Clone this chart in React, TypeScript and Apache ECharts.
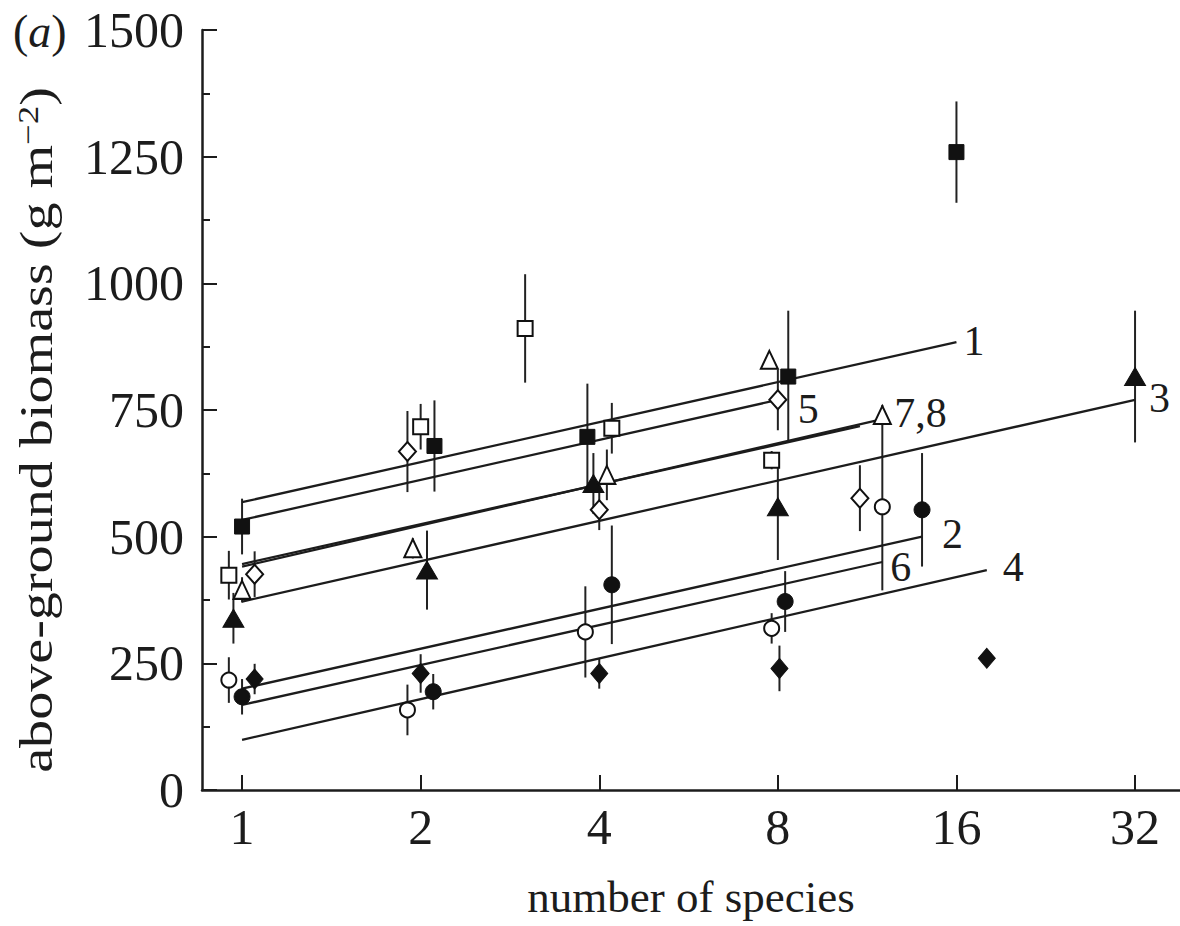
import React, { useEffect, useRef } from "react";
import * as echarts from "echarts";

const FONT = "'Liberation Serif', 'Times New Roman', Times, serif";
const INK = "#1c1c1c";

// axis ticks
const xTickValues = [1, 2, 4, 8, 16, 32];
const xMin = 0.856;
const xMax = 38.1;
const yMin = 0;
const yMax = 1500;
const yInterval = 250;

// number of species (x), biomass (y), half-length of error bar (e)
const filledSquareX = [1.0, 2.11, 3.82, 8.33, 16.0];
const filledSquareY = [520, 679, 697, 816, 1259];
const filledSquareE = [55, 90, 105, 130, 100];

const openSquareX = [0.95, 2.0, 3.0, 4.2, 7.81];
const openSquareY = [424, 717, 911, 714, 651];
const openSquareE = [48, 45, 107, 50, 18];

const filledTriangleX = [0.967, 2.05, 3.91, 8.0, 32.0];
const filledTriangleY = [339, 434, 605, 559, 816];
const filledTriangleE = [50, 78, 60, 105, 130];

const openTriangleX = [1.0, 1.94, 4.12, 7.74, 12.0];
const openTriangleY = [395, 477, 622, 849, 740];
const openTriangleE = [25, 20, 50, 15, 20];

const filledCircleX = [1.0, 2.1, 4.2, 8.23, 14.0];
const filledCircleY = [184, 194, 405, 372, 553];
const filledCircleE = [35, 35, 117, 60, 112];

const openCircleX = [0.95, 1.9, 3.79, 7.81, 12.0];
const openCircleY = [217, 158, 312, 319, 559];
const openCircleE = [45, 50, 90, 30, 165];

const filledDiamondX = [1.05, 2.0, 4.0, 8.05, 18.0];
const filledDiamondY = [219, 230, 230, 240, 260];
const filledDiamondE = [30, 38, 30, 45, 0];

const openDiamondX = [1.05, 1.9, 4.0, 8.0, 11.0];
const openDiamondY = [426, 668, 553, 770, 576];
const openDiamondE = [45, 80, 40, 60, 65];

// fitted regression lines (one per site)
const lineLabels = ["1", "5", "", "7,8", "3", "2", "6", "4"];
const lineStartX = [1, 1, 1, 1, 1, 1, 1, 1];
const lineStartY = [568, 533, 446, 441, 372, 200, 168, 99];
const lineEndX = [16, 8, 11, 12, 32, 14, 12, 18];
const lineEndY = [884, 770, 718, 732, 770, 500, 450, 434];
// label offsets (style only)
const lineLabelOffsets = [
  [7, -1],
  [20, 9],
  [0, 0],
  [12, -6],
  [14, -2],
  [20, -3],
  [8, 5],
  [16, -3],
];

type Group = {
  name: string;
  x: number[];
  y: number[];
  e: number[];
  symbol: string;
  size: number | number[];
  filled: boolean;
};

const groups: Group[] = [
  { name: "filled square", x: filledSquareX, y: filledSquareY, e: filledSquareE, symbol: "rect", size: 15, filled: true },
  { name: "open square", x: openSquareX, y: openSquareY, e: openSquareE, symbol: "rect", size: 15, filled: false },
  { name: "filled triangle", x: filledTriangleX, y: filledTriangleY, e: filledTriangleE, symbol: "triangle", size: [21, 18], filled: true },
  { name: "open triangle", x: openTriangleX, y: openTriangleY, e: openTriangleE, symbol: "triangle", size: [17, 18], filled: false },
  { name: "filled circle", x: filledCircleX, y: filledCircleY, e: filledCircleE, symbol: "circle", size: 16, filled: true },
  { name: "open circle", x: openCircleX, y: openCircleY, e: openCircleE, symbol: "circle", size: 15, filled: false },
  { name: "filled diamond", x: filledDiamondX, y: filledDiamondY, e: filledDiamondE, symbol: "diamond", size: [17, 20], filled: true },
  { name: "open diamond", x: openDiamondX, y: openDiamondY, e: openDiamondE, symbol: "diamond", size: [17, 19], filled: false },
];

export default function App() {
  const ref = useRef<HTMLDivElement>(null);

  useEffect(() => {
    if (!ref.current) return;
    const chart = echarts.init(ref.current, null, { renderer: "svg" });

    const errorData: number[][] = [];
    groups.forEach((g) => {
      g.x.forEach((xv, i) => {
        if (g.e[i] > 0) errorData.push([xv, g.y[i], g.e[i]]);
      });
    });

    const errorSeries = {
      type: "custom",
      name: "error bars",
      silent: true,
      z: 2,
      encode: { x: 0, y: 1 },
      data: errorData,
      renderItem: (_params: any, api: any) => {
        const xv = api.value(0);
        const yv = api.value(1);
        const ev = api.value(2);
        const p1 = api.coord([xv, yv - ev]);
        const p2 = api.coord([xv, yv + ev]);
        return {
          type: "line",
          shape: { x1: p1[0], y1: p1[1], x2: p2[0], y2: p2[1] },
          style: { stroke: "#222222", lineWidth: 2 },
        };
      },
    };

    const lineSeries = lineLabels.map((lab, i) => ({
      type: "line",
      name: "site " + (lab || "7"),
      silent: true,
      z: 3,
      symbol: "none",
      showSymbol: false,
      data: [
        [lineStartX[i], lineStartY[i]],
        [lineEndX[i], lineEndY[i]],
      ],
      lineStyle: { color: INK, width: 2.3, opacity: 1 },
      endLabel: {
        show: lab !== "",
        formatter: () => lab,
        distance: 0,
        offset: lineLabelOffsets[i],
        align: "left",
        verticalAlign: "middle",
        color: INK,
        fontSize: 42,
        fontFamily: FONT,
      },
    }));

    const scatterSeries = groups.map((g) => ({
      type: "scatter",
      name: g.name,
      silent: true,
      z: 4,
      symbol: g.symbol,
      symbolSize: g.size,
      data: g.x.map((xv, i) => [xv, g.y[i]]),
      itemStyle: g.filled
        ? { color: "#111111", borderColor: "#111111", borderWidth: 1, opacity: 1 }
        : { color: "#ffffff", borderColor: "#111111", borderWidth: 2, opacity: 1 },
    }));

    const option: any = {
      animation: false,
      backgroundColor: "#ffffff",
      textStyle: { fontFamily: FONT },
      grid: {
        left: 202,
        top: 30,
        right: 0,
        bottom: 136,
        containLabel: false,
        outerBoundsMode: "none",
      },
      xAxis: {
        type: "log",
        logBase: 2,
        min: xMin,
        max: xMax,
        name: "number of species",
        nameLocation: "middle",
        nameGap: 84,
        nameTextStyle: { color: INK, fontSize: 45, fontFamily: FONT },
        axisLine: { show: true, onZero: false, lineStyle: { color: INK, width: 2.5 } },
        axisTick: {
          show: true,
          inside: true,
          length: 15,
          customValues: xTickValues,
          lineStyle: { color: INK, width: 2 },
        },
        minorTick: { show: false },
        axisLabel: {
          customValues: xTickValues,
          color: INK,
          fontSize: 50,
          fontFamily: FONT,
          margin: 12,
          formatter: (v: number) => String(Math.round(v)),
        },
        splitLine: { show: false },
      },
      yAxis: {
        type: "value",
        min: yMin,
        max: yMax,
        interval: yInterval,
        axisLine: { show: true, onZero: false, lineStyle: { color: INK, width: 2.5 } },
        axisTick: { show: true, inside: true, length: 15, lineStyle: { color: INK, width: 2 } },
        minorTick: { show: true, splitNumber: 2, length: 8, lineStyle: { color: INK, width: 2 } },
        axisLabel: {
          color: INK,
          fontSize: 50,
          fontFamily: FONT,
          margin: 18,
          formatter: (v: number) => String(v),
        },
        splitLine: { show: false },
        minorSplitLine: { show: false },
      },
      graphic: [
        {
          type: "text",
          x: 13,
          y: 31,
          silent: true,
          style: {
            text: "{n|(}{i|a}{n|)}",
            fill: INK,
            align: "left",
            verticalAlign: "middle",
            textAlign: "left",
            textVerticalAlign: "middle",
            rich: {
              n: { fontSize: 46, fontFamily: FONT, fill: INK, color: INK },
              i: { fontSize: 46, fontFamily: FONT, fontStyle: "italic", fill: INK, color: INK },
            },
          },
        },
        {
          type: "text",
          x: 36,
          y: 430,
          rotation: Math.PI / 2,
          scaleX: 1.22,
          silent: true,
          style: {
            text: "above-ground biomass (g m{sup|−2})",
            fontSize: 46,
            fontFamily: FONT,
            fill: INK,
            align: "center",
            verticalAlign: "middle",
            textAlign: "center",
            textVerticalAlign: "middle",
            rich: {
              sup: { fontSize: 30, fontFamily: FONT, fill: INK, color: INK, verticalAlign: "top" },
            },
          },
        },
      ],
      series: [errorSeries, ...lineSeries, ...scatterSeries],
    };

    chart.setOption(option);
    return () => chart.dispose();
  }, []);

  return (
    <div
      ref={ref}
      style={{ position: "fixed", left: 0, top: 0, width: 1180, height: 926, background: "#ffffff" }}
    />
  );
}
